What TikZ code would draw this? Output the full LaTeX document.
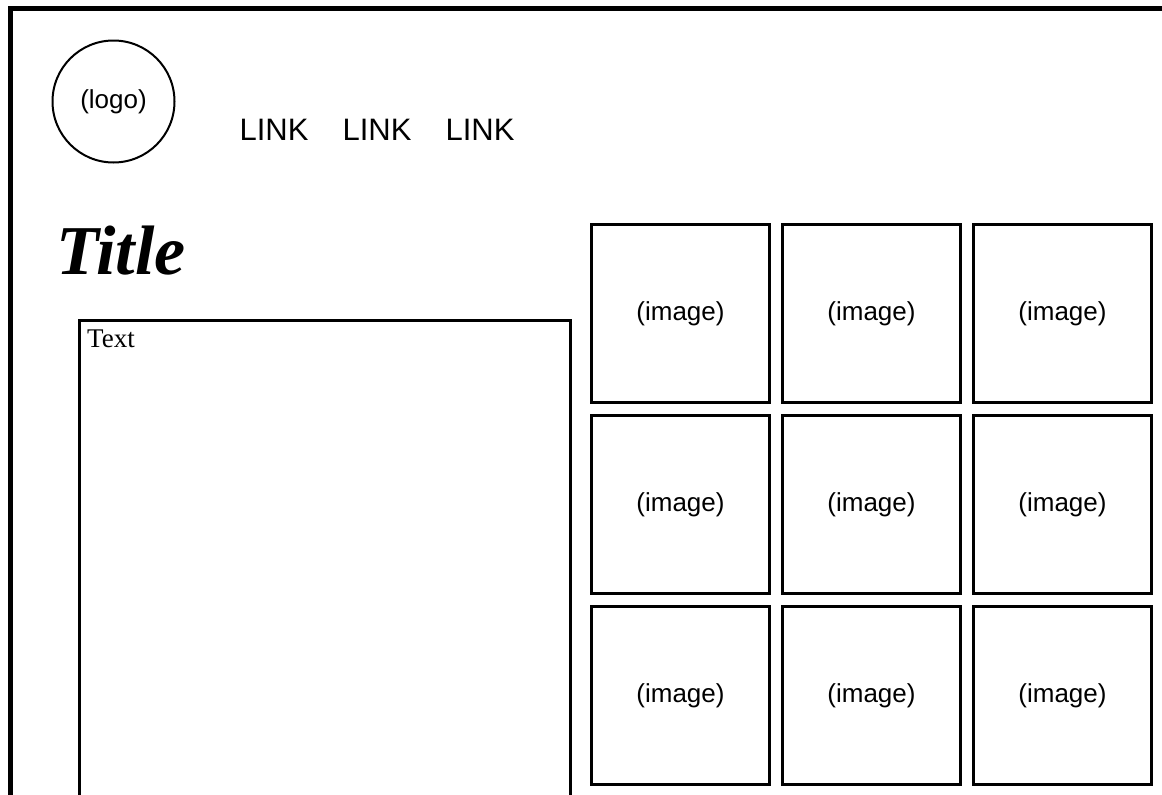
\documentclass[tikz,border=0pt]{standalone}
\usepackage{fontspec}
\setmainfont{Liberation Sans}
\newfontfamily\serifface{Liberation Serif}
\usepackage{tikz}
\usetikzlibrary{positioning}
\tikzset{
  imgbox/.style={draw, line width=3pt, minimum width=178.5pt, minimum height=178.5pt, inner sep=0pt, font=\fontsize{26}{30}\selectfont},
  navlink/.style={font=\fontsize{31}{36}\selectfont, inner sep=0pt}
}

\begin{document}
\begin{tikzpicture}[x=1pt, y=-1pt]
  \useasboundingbox (0,0) rectangle (1162,795);
  % page frame (right and bottom run off the page)
  \draw[line width=5pt] (10,900) -- (10,8.5) -- (1250,8.5);

  \draw node (logo) [circle, draw, line width=2pt, minimum size=122pt, inner sep=0pt, font=\fontsize{26}{30}\selectfont] at (113.5,101.5) {(logo)};

  \draw node (link1) [navlink, anchor=base] at (274,140) {LINK};
  \draw node (link2) [navlink, anchor=base] at (377,140) {LINK};
  \draw node (link3) [navlink, anchor=base] at (480,140) {LINK};

  \draw node (title) [anchor=base west, inner sep=0pt, font=\serifface\bfseries\itshape\fontsize{70}{80}\selectfont] at (56,274) {Title};

  \draw node (textbox) [draw, line width=2.5pt, anchor=north west, minimum width=491pt, minimum height=620pt, inner sep=0pt] at (78,319) {};
  \draw node (text) [anchor=north west, inner sep=0pt, font=\serifface\fontsize{27}{32}\selectfont] at ([xshift=9pt, yshift=-11pt]textbox.north west) {Text};

\begin{scope}[every node/.style={imgbox}]
  \draw node (img11) at (680.5,313.5) {(image)};
  \draw node (img12) at (871.5,313.5) {(image)};
  \draw node (img13) at (1062.5,313.5) {(image)};
  \draw node (img21) at (680.5,504.5) {(image)};
  \draw node (img22) at (871.5,504.5) {(image)};
  \draw node (img23) at (1062.5,504.5) {(image)};
  \draw node (img31) at (680.5,695.5) {(image)};
  \draw node (img32) at (871.5,695.5) {(image)};
  \draw node (img33) at (1062.5,695.5) {(image)};
\end{scope}
\end{tikzpicture}
\end{document}
